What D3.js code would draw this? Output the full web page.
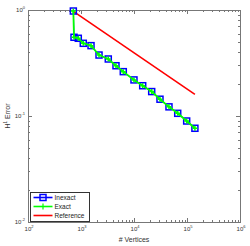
<!DOCTYPE html>
<html>
<head>
<meta charset="utf-8">
<script src="https://cdn.jsdelivr.net/npm/d3@7"></script>
<style>
  body { margin: 0; background: #fff; }
  svg { display: block; font-family: "Liberation Sans", Arial, sans-serif; }
</style>
</head>
<body>
<svg id="chart" width="250" height="246"></svg>
<script>
// data
const vertices = [717, 738, 889, 1104, 1545, 2188, 3273, 4572, 6280, 9990, 14590, 21570, 30930, 45700, 66800, 98600, 141000];
const inexactErr = [0.978, 0.553, 0.541, 0.485, 0.461, 0.376, 0.345, 0.298, 0.262, 0.219, 0.193, 0.170, 0.144, 0.122, 0.106, 0.0897, 0.0766];
const exactErr = [0.978, 0.553, 0.541, 0.485, 0.461, 0.376, 0.345, 0.298, 0.262, 0.219, 0.193, 0.170, 0.144, 0.122, 0.106, 0.0897, 0.0766];
const refVertices = [717, 141000];
const refErr = [0.97, 0.16];
const xTicks = [1e2, 1e3, 1e4, 1e5, 1e6];
const yTicks = [1e-2, 1e-1, 1e0];
const legendNames = ['Inexact', 'Exact', 'Reference'];

const svg = d3.select('#chart');
const margin = { left: 28, top: 10, right: 10, bottom: 24 };
const width = 250, height = 246;
const axisColor = '#777';

const x = d3.scaleLog().domain([1e2, 1e6]).range([margin.left, width - margin.right]);
const y = d3.scaleLog().domain([1e-2, 1e0]).range([height - margin.bottom, margin.top]);

const x0 = x.range()[0], x1 = x.range()[1];
const y0 = y.range()[0], y1 = y.range()[1];

// minor + major ticks
const xMinor = x.ticks();
const yMinor = y.ticks();
const isMajor = v => Math.abs(Math.log10(v) - Math.round(Math.log10(v))) < 1e-9;

const ticks = svg.append('g').attr('stroke', axisColor).attr('stroke-width', 1);
xMinor.forEach(v => {
    const len = isMajor(v) ? 4 : 2;
    const px = Math.round(x(v)) + 0.5;
    ticks.append('line').attr('x1', px).attr('x2', px).attr('y1', y0).attr('y2', y0 - len);
    ticks.append('line').attr('x1', px).attr('x2', px).attr('y1', y1).attr('y2', y1 + len);
});
yMinor.forEach(v => {
    const len = isMajor(v) ? 4 : 2;
    const py = Math.round(y(v)) + 0.5;
    ticks.append('line').attr('y1', py).attr('y2', py).attr('x1', x0).attr('x2', x0 + len);
    ticks.append('line').attr('y1', py).attr('y2', py).attr('x1', x1).attr('x2', x1 - len);
});

// tick labels with superscript exponents
function powLabel(g, v, anchor) {
    const t = g.append('text').attr('text-anchor', anchor).attr('font-size', 6).attr('fill', '#333');
    t.append('tspan').text('10');
    t.append('tspan').attr('font-size', 4).attr('dy', -3).text(Math.round(Math.log10(v)));
}
const labels = svg.append('g');
xTicks.forEach(v => {
    const g = labels.append('g').attr('transform', `translate(${x(v) + 1},${y0 + 9})`);
    powLabel(g, v, 'middle');
});
yTicks.forEach(v => {
    const g = labels.append('g').attr('transform', `translate(${x0 - 3},${y(v) + 2})`);
    powLabel(g, v, 'end');
});

// axis titles
svg.append('text')
    .attr('x', (x0 + x1) / 2).attr('y', height - 4)
    .attr('text-anchor', 'middle').attr('font-size', 7).attr('fill', '#333')
    .text('# Vertices');
const yl = svg.append('text')
    .attr('transform', `translate(10,${(y0 + y1) / 2}) rotate(-90)`)
    .attr('text-anchor', 'middle').attr('font-size', 7).attr('fill', '#333');
yl.append('tspan').text('H');
yl.append('tspan').attr('font-size', 4.5).attr('dy', -3).text('1');
yl.append('tspan').attr('dy', 3).text(' Error');

// box
svg.append('rect')
    .attr('x', x0 + 0.5).attr('y', y1 + 0.5)
    .attr('width', x1 - x0).attr('height', y0 - y1)
    .attr('fill', 'none').attr('stroke', axisColor).attr('stroke-width', 1);

// series
const line = d3.line().x(d => x(d[0])).y(d => y(d[1]));
const inexact = d3.zip(vertices, inexactErr);
const exact = d3.zip(vertices, exactErr);
const ref = d3.zip(refVertices, refErr);

svg.append('path').datum(ref).attr('d', line)
    .attr('fill', 'none').attr('stroke', '#ff0000').attr('stroke-width', 1.6);

svg.append('path').datum(inexact).attr('d', line)
    .attr('fill', 'none').attr('stroke', '#0000ff').attr('stroke-width', 1);
svg.selectAll('.sq').data(inexact).enter().append('rect')
    .attr('class', 'sq')
    .attr('x', d => x(d[0]) - 3).attr('y', d => y(d[1]) - 3)
    .attr('width', 6).attr('height', 6)
    .attr('fill', 'none').attr('stroke', '#0000ff').attr('stroke-width', 1.5);

svg.append('path').datum(exact).attr('d', line)
    .attr('fill', 'none').attr('stroke', '#00ff00').attr('stroke-width', 1.8);
svg.selectAll('.pl').data(exact).enter().append('path')
    .attr('class', 'pl')
    .attr('transform', d => `translate(${x(d[0])},${y(d[1])})`)
    .attr('d', 'M-2.5,0H2.5M0,-2.5V2.5')
    .attr('stroke', '#00ff00').attr('stroke-width', 1.5);

// legend
const lg = svg.append('g').attr('transform', 'translate(30.5,192.5)');
lg.append('rect').attr('width', 59).attr('height', 29)
    .attr('fill', '#fff').attr('stroke', '#333').attr('stroke-width', 1);
const colors = ['#0000ff', '#00ff00', '#ff0000'];
legendNames.forEach((name, i) => {
    const ly = 5 + i * 9;
    lg.append('line').attr('x1', 3).attr('x2', 22).attr('y1', ly).attr('y2', ly)
        .attr('stroke', colors[i]).attr('stroke-width', 1.6);
    if (i === 0) {
        lg.append('rect').attr('x', 9.5).attr('y', ly - 3).attr('width', 6).attr('height', 6)
            .attr('fill', 'none').attr('stroke', colors[i]).attr('stroke-width', 1.5);
    }
    if (i === 1) {
        lg.append('path').attr('transform', `translate(12.5,${ly})`)
            .attr('d', 'M-3,0H3M0,-3V3').attr('stroke', colors[i]).attr('stroke-width', 1.2);
    }
    lg.append('text').attr('x', 24).attr('y', ly + 2.5)
        .attr('font-size', 6.5).attr('fill', '#222').text(name);
});
</script>
</body>
</html>
